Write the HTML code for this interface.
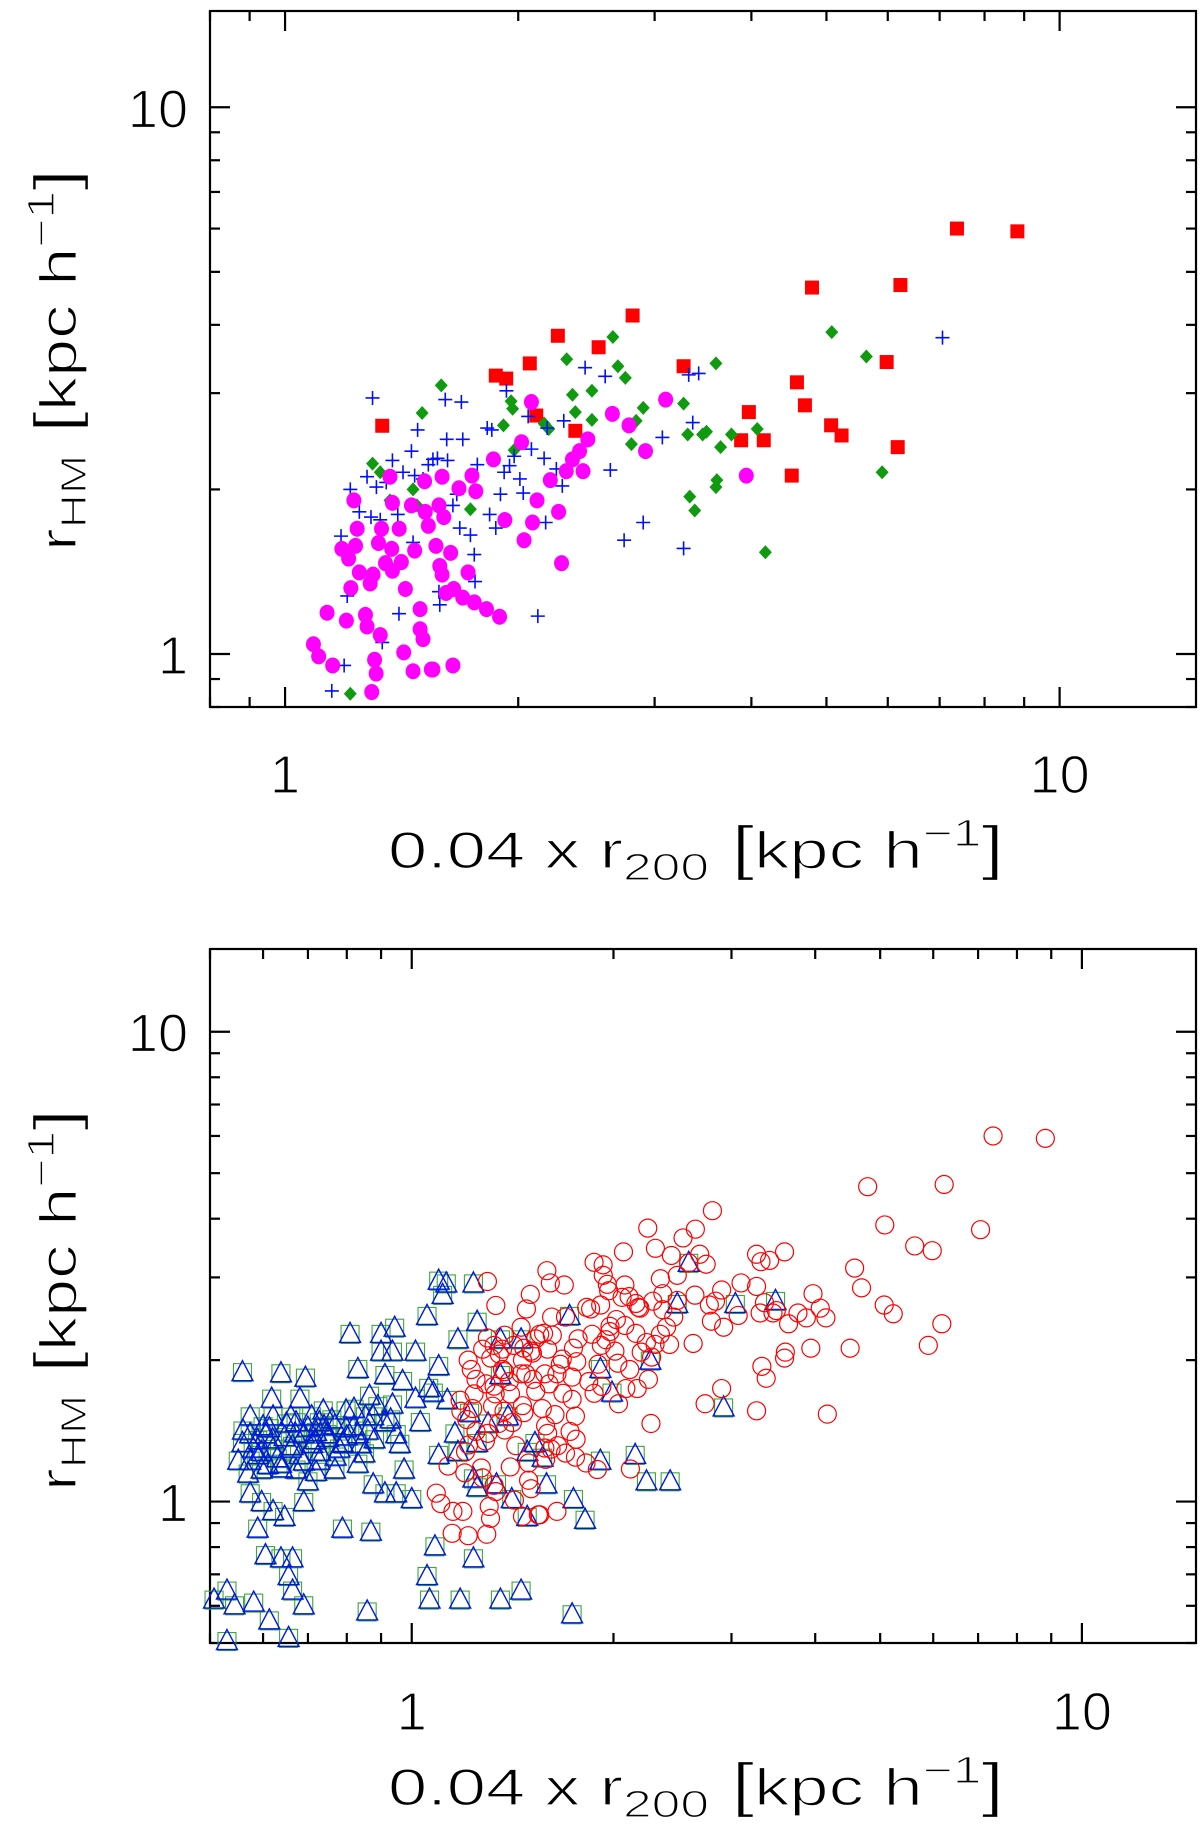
<!DOCTYPE html>
<html><head><meta charset="utf-8">
<style>
html,body{margin:0;padding:0;background:#fff;}
svg{display:block;}
text{font-family:"Liberation Sans",sans-serif;fill:#000;stroke:#fff;stroke-width:1.3px;paint-order:normal;}
</style></head>
<body>
<svg id="fig" width="1200" height="1829" viewBox="0 0 1200 1829" xmlns="http://www.w3.org/2000/svg">
  <g id="top"></g>
  <g id="bot"></g>
</svg>
<script>
// ---------- data (x = 0.04 r200, y = r_HM) ----------
const redSqX=[1.335,1.871,1.93,2.07,2.11,2.25,2.37,2.54,2.81,3.27,3.88,3.97,4.15,4.51,4.58,4.69,4.79,5.07,5.23,5.98,6.18,6.23,7.37,8.82];
const redSqY=[2.615,3.23,3.19,3.40,2.73,3.82,2.56,3.64,4.16,3.36,2.46,2.77,2.46,2.12,3.14,2.85,4.68,2.62,2.51,3.42,2.39,4.73,6.00,5.93];
const greenX=[1.297,1.327,1.214,1.463,1.503,1.591,1.735,1.914,1.958,1.967,1.976,2.16,2.19,2.31,2.35,2.37,2.49,2.49,2.65,2.69,2.75,2.80,2.84,2.90,3.27,3.31,3.33,3.38,3.46,3.50,3.60,3.60,3.61,3.65,3.77,4.07,4.17,5.08,5.63,5.90,1.366,1.48];
const greenY=[2.23,2.15,0.846,2.00,2.76,3.10,1.84,2.62,2.90,2.81,2.36,2.64,2.58,3.46,2.98,2.77,3.03,2.68,3.80,3.36,3.20,2.42,2.67,2.82,2.87,2.52,1.94,1.83,2.52,2.55,3.40,2.02,2.08,2.39,2.52,2.58,1.535,3.88,3.50,2.15,1.91,1.87];
const blueX=[1.297,1.149,1.192,1.203,1.181,1.214,1.247,1.276,1.291,1.312,1.327,1.351,1.376,1.403,1.42,1.456,1.47,1.483,1.463,1.507,1.531,1.552,1.573,1.58,1.584,1.61,1.621,1.647,1.666,1.689,1.696,1.681,1.755,1.759,1.771,1.824,1.837,1.849,1.871,1.897,1.918,1.931,1.949,1.976,2.01,2.03,2.06,2.08,2.12,2.16,2.17,2.18,2.24,2.28,2.29,2.44,2.59,2.63,2.74,2.90,3.07,3.27,3.32,3.36,3.42,7.06,1.335,1.398,1.735,1.617];
const blueY=[2.94,0.856,0.953,1.277,1.643,2.00,1.82,2.11,1.78,2.02,1.76,2.06,2.26,1.185,2.15,2.35,2.12,2.57,1.60,2.09,2.22,2.27,2.28,1.30,1.23,2.92,2.26,1.87,1.96,2.89,2.47,1.70,1.52,1.357,2.22,2.59,1.80,2.57,1.70,1.96,2.15,3.03,2.21,2.30,2.09,1.97,2.72,2.37,1.173,2.28,1.74,2.59,2.18,2.03,2.67,3.34,3.22,2.17,1.615,1.74,2.49,1.56,3.24,2.65,3.26,3.79,1.05,1.80,1.65,2.47];
const magX=[1.088,1.105,1.133,1.152,1.184,1.200,1.208,1.216,1.227,1.233,1.239,1.247,1.27,1.276,1.288,1.294,1.299,1.305,1.311,1.32,1.327,1.332,1.348,1.373,1.376,1.366,1.376,1.404,1.413,1.423,1.43,1.456,1.463,1.47,1.494,1.494,1.507,1.514,1.517,1.531,1.545,1.552,1.566,1.58,1.584,1.595,1.595,1.603,1.614,1.636,1.647,1.651,1.677,1.696,1.723,1.743,1.755,1.763,1.82,1.858,1.892,1.922,2.02,2.035,2.08,2.087,2.115,2.20,2.255,2.275,2.307,2.35,2.40,2.425,2.46,2.646,2.78,2.92,3.10,3.94];
const magY=[1.042,0.990,1.19,0.953,1.557,1.151,1.495,1.32,1.91,1.577,1.695,1.41,1.179,1.123,1.346,0.852,1.397,0.976,0.921,1.596,1.083,1.695,1.466,1.557,1.89,2.11,1.42,1.695,1.473,1.007,1.315,1.87,0.930,1.546,1.208,1.11,1.065,2.07,1.82,1.716,0.937,0.937,1.577,1.87,1.449,1.397,2.11,1.78,1.293,1.531,0.953,1.315,2.01,1.268,1.41,2.12,1.243,1.985,1.208,2.27,1.170,1.758,2.44,1.615,2.89,1.74,1.91,2.08,1.82,1.466,2.16,2.27,2.35,2.16,2.47,2.75,2.62,2.35,2.92,2.12];
// bottom panel: triangles (with matching squares); red circles = all haloes of the top panel
const triX=[0.559,0.638,0.694,0.618,0.605,0.559,0.574,0.597,0.621,0.646,0.672,0.709,0.738,0.768,0.798,0.831,0.853,0.865,0.90,0.912,0.936,0.948,0.969,0.974,1.0,1.013,0.809,0.90,0.943,1.054,1.097,1.126,1.236,1.112,1.252,1.172,1.356,1.456,1.097,1.077,1.013,1.097,1.172,1.252,1.356,1.392,1.487,1.527,1.568,1.72,1.912,1.99,2.27,2.49,2.59,3.04,3.49,2.92,1.236,1.252,1.338,1.41,1.487,1.589,1.743,1.814,1.912,2.155,2.24,2.43,0.574,0.597,0.621,0.646,0.69,0.589,0.605,0.638,0.664,0.655,0.664,0.69,0.788,0.869,1.083,1.236,1.054,1.063,1.181,1.356,1.456,1.735,0.858,0.613,0.655,0.53,0.507,0.544,0.581,0.53,0.728,0.768,0.831,0.876,0.912,0.948,0.70,0.574,0.621,0.681,0.747,0.551,0.788,0.831,0.912,0.936,0.589,0.613,0.664,0.69,0.718,0.597,0.638,0.672,0.574,0.728,0.798,0.876,
  0.56,0.58,0.60,0.62,0.63,0.65,0.66,0.67,0.68,0.70,0.71,0.72,0.73,0.75,0.76,0.78,0.80,0.82,0.84,0.86,0.88,0.57,0.59,0.61,0.64,0.66,0.69,0.72,0.74,0.77,0.79,0.82,0.85,0.89,0.93,0.96,1.03,1.06,1.13,1.16,1.22,1.30];
const triY=[1.89,1.88,1.84,1.66,1.395,1.336,1.225,1.173,1.298,1.375,1.479,1.522,1.567,1.457,1.436,1.395,1.522,1.684,2.09,1.864,1.613,1.395,1.81,1.173,1.015,2.09,2.28,2.28,2.35,2.49,2.96,2.92,2.92,2.76,2.42,2.22,2.22,2.22,1.947,1.71,1.66,1.26,1.279,1.336,1.864,1.522,1.279,1.336,1.243,2.49,1.92,1.71,2.00,2.64,3.23,2.64,2.68,1.59,1.123,1.075,1.091,1.015,0.930,1.091,1.015,0.917,1.225,1.26,1.107,1.107,1.044,1.0,0.957,0.930,1.0,0.878,0.771,0.759,0.759,0.696,0.648,0.603,0.878,0.865,0.805,0.759,0.696,0.620,0.620,0.620,0.648,0.577,0.585,0.56,0.514,0.506,0.620,0.603,0.611,0.648,1.225,1.173,1.207,1.091,1.044,1.044,1.107,1.522,1.522,1.66,1.395,1.225,1.336,1.92,1.479,2.09,1.355,1.436,1.316,1.395,1.355,1.279,1.207,1.173,1.395,1.479,1.567,1.522,
  1.42,1.30,1.45,1.36,1.24,1.47,1.30,1.40,1.26,1.44,1.33,1.41,1.28,1.37,1.50,1.30,1.38,1.45,1.33,1.42,1.36,1.15,1.26,1.20,1.18,1.52,1.22,1.16,1.45,1.25,1.33,1.58,1.27,1.60,1.50,1.33,1.48,1.75,1.65,1.40,1.55,1.47];

const NS='http://www.w3.org/2000/svg';
function mk(parent,tag,attrs){const e=document.createElementNS(NS,tag);for(const k in attrs)e.setAttribute(k,attrs[k]);parent.appendChild(e);return e;}
function logScale(d0,d1,p0,p1){const a=Math.log10(d0),b=Math.log10(d1);return v=>p0+(Math.log10(v)-a)/(b-a)*(p1-p0);}

function axes(g,px0,px1,py0,py1,xd,yd,xlabY,ylabX,titleY,ytitleCy){
  const sx=logScale(xd[0],xd[1],px0,px1), sy=logScale(yd[0],yd[1],py1,py0);
  const frame=mk(g,'rect',{x:px0,y:py0,width:px1-px0,height:py1-py0,fill:'none',stroke:'#000','stroke-width':2.2});
  
  
  const ticks=[];
  for(let e=-1;e<=1;e++)for(let m=1;m<=9;m++)ticks.push([m*Math.pow(10,e),m===1]);
  ticks.forEach(([v,maj])=>{
    const L=maj?20:10;
    if(v>=xd[0]&&v<=xd[1]){const x=sx(v);
      const t1=mk(g,'line',{x1:x,x2:x,y1:py1,y2:py1-L,stroke:'#000','stroke-width':2.2});
      
      
      const t2=mk(g,'line',{x1:x,x2:x,y1:py0,y2:py0+L,stroke:'#000','stroke-width':2.2});
      
      
      if(maj){const t=mk(g,'text',{x:x,y:xlabY,'text-anchor':'middle','font-size':54});t.textContent=String(Math.round(v));
        
        }
    }
    if(v>=yd[0]&&v<=yd[1]){const y=sy(v);
      const t1=mk(g,'line',{x1:px0,x2:px0+L,y1:y,y2:y,stroke:'#000','stroke-width':2.2});
      
      
      const t2=mk(g,'line',{x1:px1,x2:px1-L,y1:y,y2:y,stroke:'#000','stroke-width':2.2});
      
      
      if(maj){const t=mk(g,'text',{x:ylabX,y:y+20,'text-anchor':'end','font-size':54});t.textContent=String(Math.round(v));
        
        }
    }
  });
  const xt=mk(g,'text',{x:388,y:titleY,'font-size':52,textLength:616,lengthAdjust:'spacingAndGlyphs'});
  
  
  xt.innerHTML='0.04 x r<tspan font-size="38" dy="12">200</tspan><tspan dy="-12" font-size="60"> [</tspan>kpc h<tspan font-size="38" dy="-22">−1</tspan><tspan dy="22" font-size="60">]</tspan>';
  const yt=mk(g,'text',{x:0,y:0,'font-size':52,'text-anchor':'middle',transform:`translate(76,${ytitleCy}) rotate(-90)`,textLength:382,lengthAdjust:'spacingAndGlyphs'});
  
  
  yt.innerHTML='r<tspan font-size="36" dy="10">HM</tspan><tspan dy="-10" font-size="60"> [</tspan>kpc h<tspan font-size="38" dy="-22">−1</tspan><tspan dy="22" font-size="60">]</tspan>';
  return {sx,sy};
}

// ---------- top panel ----------
const gT=document.getElementById('top');
const T=axes(gT,210,1196,11,707,[0.8,15],[0.8,15],793,188,868,360);
const mT=mk(gT,'g',{});


redSqX.forEach((v,i)=>{const x=T.sx(v),y=T.sy(redSqY[i]);
  const e=mk(mT,'rect',{x:x-7,y:y-7,width:14,height:14,fill:'#f00'});
  
  });
greenX.forEach((v,i)=>{const x=T.sx(v),y=T.sy(greenY[i]);
  const e=mk(mT,'polygon',{points:`${x},${y-7} ${x+6.5},${y} ${x},${y+7} ${x-6.5},${y}`,fill:'#109a10'});
  
  });
blueX.forEach((v,i)=>{const x=T.sx(v),y=T.sy(blueY[i]);
  const e=mk(mT,'path',{d:`M${x-7},${y}H${x+7}M${x},${y-7}V${y+7}`,stroke:'#0010ff','stroke-width':1.6,fill:'none'});
  
  });
magX.forEach((v,i)=>{const x=T.sx(v),y=T.sy(magY[i]);
  const e=mk(mT,'ellipse',{cx:x,cy:y,rx:7.5,ry:8,fill:'#f0f'});
  
  });

// ---------- bottom panel ----------
const gB=document.getElementById('bot');
const B=axes(gB,210,1196,949,1643,[0.5,14.8],[0.5,15],1730,188,1805,1300);
const mB=mk(gB,'g',{});


triX.forEach((v,i)=>{const x=B.sx(v),y=B.sy(triY[i]);
  const e=mk(mB,'rect',{x:x-9,y:y-8,width:18,height:18,fill:'none',stroke:'#3aa83a','stroke-width':1.1});
  
  });
triX.forEach((v,i)=>{const x=B.sx(v),y=B.sy(triY[i]);
  const e=mk(mB,'polygon',{points:`${x},${y-11} ${x+10.5},${y+9} ${x-10.5},${y+9}`,fill:'none',stroke:'#0018e0','stroke-width':1.4});
  
  });
const circX=redSqX.concat(greenX,blueX,magX), circY=redSqY.concat(greenY,blueY,magY);
circX.forEach((v,i)=>{const x=B.sx(v),y=B.sy(circY[i]);
  const e=mk(mB,'circle',{cx:x,cy:y,r:9,fill:'none',stroke:'#f00','stroke-width':1.2});
  
  });
</script>
</body></html>
